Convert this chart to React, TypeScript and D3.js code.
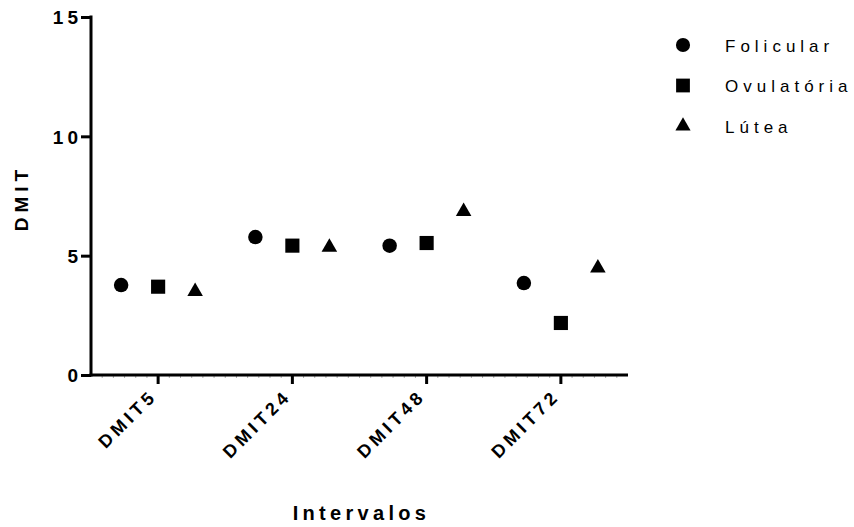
import React, { useEffect, useRef } from "react";
import * as d3 from "d3";

const categories = ["DMIT5", "DMIT24", "DMIT48", "DMIT72"];
const folicular = [3.77, 5.78, 5.42, 3.85];
const ovulatoria = [3.7, 5.42, 5.53, 2.18];
const lutea = [3.5, 5.35, 6.85, 4.48];
const yTicks = [0, 5, 10, 15];

const series = [
  { name: "Folicular", values: folicular, symbol: d3.symbolCircle, offset: -1, size: 165 },
  { name: "Ovulatória", values: ovulatoria, symbol: d3.symbolSquare, offset: 0, size: 200 },
  { name: "Lútea", values: lutea, symbol: d3.symbolTriangle, offset: 1, size: 105 },
];

export default function App() {
  const ref = useRef<SVGSVGElement>(null);

  useEffect(() => {
    const svg = d3.select(ref.current);
    svg.selectAll("*").remove();

    const margin = { top: 17, left: 91, right: 226, bottom: 152 };
    const width = 854 - margin.left - margin.right;
    const height = 527 - margin.top - margin.bottom;
    const font = "'Liberation Sans', Arial, sans-serif";

    const g = svg.append("g").attr("transform", `translate(${margin.left},${margin.top})`);

    const x = d3.scaleBand().domain(categories).range([0, width]).padding(0);
    const y = d3.scaleLinear().domain([0, 15]).range([height, 0]);
    const step = 37;

    // little grey minor ticks under the x axis
    const minor = d3.range(1, categories.length * 12).map(i => (i * width) / (categories.length * 12));
    g.append("g").selectAll("line")
      .data(minor)
      .enter().append("line")
      .attr("x1", d => d).attr("x2", d => d)
      .attr("y1", height + 1).attr("y2", height + 3)
      .style("stroke", "#aaa").style("stroke-width", 1);

    // y axis
    const yAxis = g.append("g")
      .call(d3.axisLeft(y).tickValues(yTicks).tickSize(10).tickPadding(-1));
    yAxis.select(".domain").style("stroke-width", 3).attr("d", `M0,${height + 1.5}V-1.5`);
    yAxis.selectAll(".tick line").style("stroke-width", 3);
    yAxis.attr("font-size", 19).attr("font-family", font);
    yAxis.selectAll("text")
      .style("font-family", font).style("font-size", "19px").style("font-weight", "bold")
      .style("letter-spacing", "4px").attr("dy", "0.36em");

    // x axis
    const xAxis = g.append("g")
      .attr("transform", `translate(0,${height})`)
      .call(d3.axisBottom(x).tickSize(9).tickSizeOuter(0));
    xAxis.select(".domain").style("stroke-width", 3).attr("d", `M-1.5,0H${width}`);
    xAxis.selectAll(".tick line").style("stroke-width", 3);
    xAxis.attr("font-size", 18).attr("font-family", font);
    xAxis.selectAll("text")
      .style("font-family", font).style("font-size", "18px").style("font-weight", "bold")
      .style("letter-spacing", "4px")
      .style("text-anchor", "end")
      .attr("dy", null).attr("y", 0)
      .attr("transform", "translate(0,22)rotate(-45)");

    // points
    series.forEach(s => {
      g.selectAll(null)
        .data(s.values)
        .enter().append("path")
        .attr("d", d3.symbol().type(s.symbol).size(s.size))
        .attr("transform", (d, i) => `translate(${x(categories[i])! + x.bandwidth() / 2 + s.offset * step},${y(d)})`)
        .attr("fill", "#000");
    });

    // axis titles
    svg.append("text")
      .attr("x", margin.left + width / 2 + 2).attr("y", 520)
      .attr("text-anchor", "middle")
      .style("font-family", font).style("font-size", "20px").style("font-weight", "bold")
      .style("letter-spacing", "4.3px")
      .text("Intervalos");

    svg.append("text")
      .attr("transform", `translate(28,${margin.top + height / 2 + 2})rotate(-90)`)
      .attr("text-anchor", "middle")
      .style("font-family", font).style("font-size", "19px").style("font-weight", "bold")
      .style("letter-spacing", "5px")
      .text("DMIT");

    // legend
    const legend = svg.append("g").attr("transform", "translate(683,45)");
    series.forEach((s, i) => {
      const row = legend.append("g").attr("transform", `translate(0,${i * 40.5})`);
      row.append("path")
        .attr("d", d3.symbol().type(s.symbol).size(s.size * 0.95))
        .attr("fill", "#000");
      row.append("text")
        .attr("x", 42).attr("y", 6.5)
        .style("font-family", font).style("font-size", "17px")
        .style("letter-spacing", "5px")
        .text(s.name);
    });
  }, []);

  return <svg ref={ref} width={854} height={527} style={{ display: "block", position: "absolute", left: 0, top: 0, background: "#fff" }} />;
}
